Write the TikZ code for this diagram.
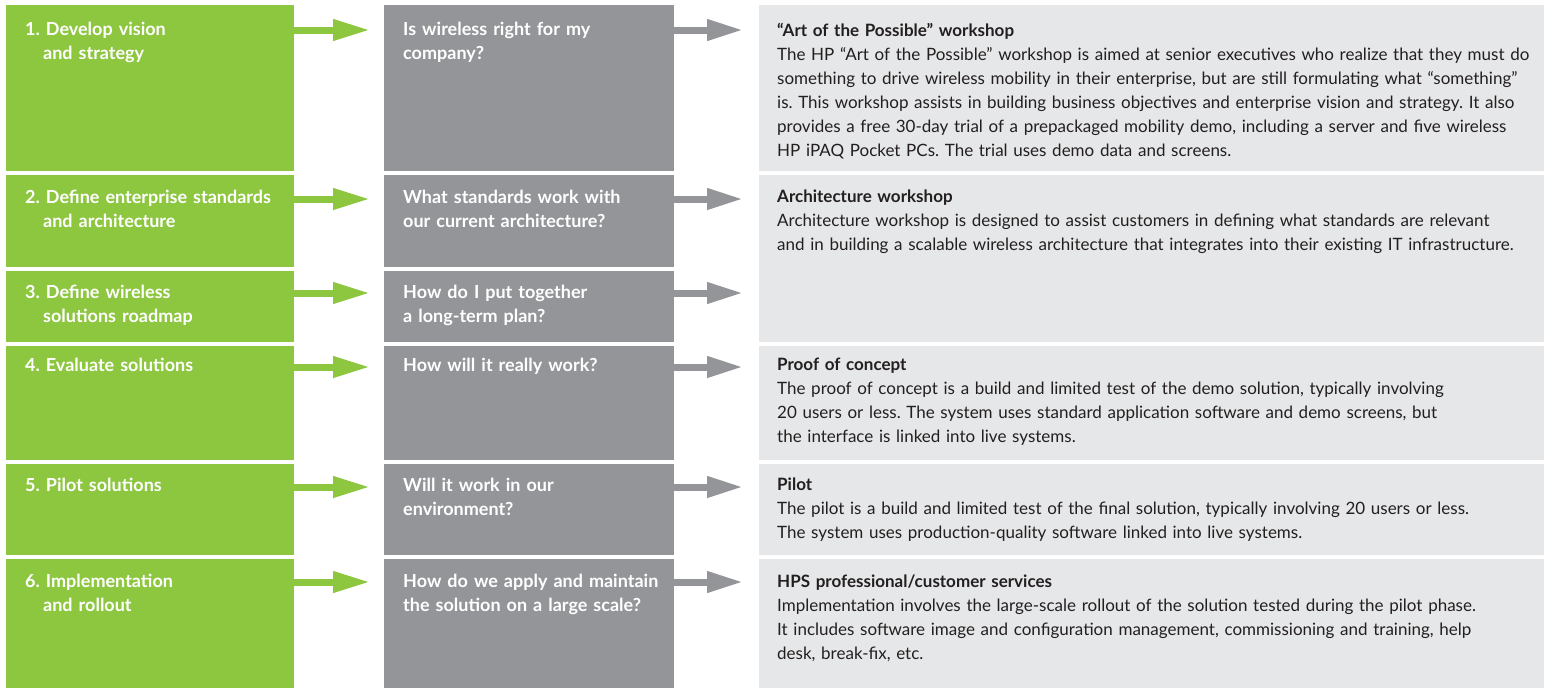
\documentclass[tikz,border=0pt]{standalone}
\usepackage{fontspec}
\setmainfont{Lato}
\frenchspacing
\usetikzlibrary{arrows.meta}
\definecolor{hpgreen}{HTML}{8DC63F}
\definecolor{hpgray}{HTML}{939598}
\definecolor{hplight}{HTML}{E6E7E8}
\definecolor{hptext}{HTML}{231F20}
\begin{document}
\begin{tikzpicture}[x=1pt,y=-1pt,
	stagebox/.style={fill=hpgreen,minimum width=288pt,anchor=north west,inner sep=0pt},
	askbox/.style={fill=hpgray,minimum width=290pt,anchor=north west,inner sep=0pt},
	offerbox/.style={fill=hplight,minimum width=785pt,anchor=north west,inner sep=0pt},
	boldtext/.style={anchor=base west,inner sep=0pt,align=left,text width=280pt,text=white,
		font=\fontsize{18}{24}\selectfont\bfseries},
	offertext/.style={anchor=base west,inner sep=0pt,align=left,text width=767pt,text=hptext,
		font=\fontsize{17}{24}\selectfont},
	greenarrow/.style={hpgreen,line width=7pt,-{Triangle[width=20pt,length=37pt]}},
	grayarrow/.style={hpgray,line width=7pt,-{Triangle[width=20pt,length=36pt]}}]

	\useasboundingbox (0,0) rectangle (1544,688);

	\node[stagebox, minimum height=166pt] (s1) at (6,5) {};
	\node[stagebox, minimum height=92pt] (s2) at (6,175) {};
	\node[stagebox, minimum height=71pt] (s3) at (6,271) {};
	\node[stagebox, minimum height=114pt] (s4) at (6,346) {};
	\node[stagebox, minimum height=91pt] (s5) at (6,464) {};
	\node[stagebox, minimum height=129pt] (s6) at (6,559) {};

	\node[askbox, minimum height=166pt] (q1) at (384,5) {};
	\node[askbox, minimum height=92pt] (q2) at (384,175) {};
	\node[askbox, minimum height=71pt] (q3) at (384,271) {};
	\node[askbox, minimum height=114pt] (q4) at (384,346) {};
	\node[askbox, minimum height=91pt] (q5) at (384,464) {};
	\node[askbox, minimum height=129pt] (q6) at (384,559) {};

	\node[offerbox, minimum height=166pt] (d1) at (759,5) {};
	\node[offerbox, minimum height=167pt] (d2) at (759,175) {};
	\node[offerbox, minimum height=114pt] (d4) at (759,346) {};
	\node[offerbox, minimum height=91pt] (d5) at (759,464) {};
	\node[offerbox, minimum height=129pt] (d6) at (759,559) {};

	\node[boldtext] (s1t) at (25,35) {1.\ Develop vision\\\hspace*{18pt}and strategy};
	\node[boldtext] (s2t) at (25,203) {2.\ Define enterprise standards\\\hspace*{18pt}and architecture};
	\node[boldtext] (s3t) at (25,298) {3.\ Define wireless\\\hspace*{18pt}solutions roadmap};
	\node[boldtext] (s4t) at (25,371) {4.\ Evaluate solutions};
	\node[boldtext] (s5t) at (25,491) {5.\ Pilot solutions};
	\node[boldtext] (s6t) at (25,587) {6.\ Implementation\\\hspace*{18pt}and rollout};

	\node[boldtext] (q1t) at (403,35) {Is wireless right for my\\company?};
	\node[boldtext] (q2t) at (403,203) {What standards work with\\our current architecture?};
	\node[boldtext] (q3t) at (403,298) {How do I put together\\a long-term plan?};
	\node[boldtext] (q4t) at (403,371) {How will it really work?};
	\node[boldtext] (q5t) at (403,491) {Will it work in our\\environment?};
	\node[boldtext] (q6t) at (403,587) {How do we apply and maintain\\the solution on a large scale?};

	\node[offertext] (d1t) at (777,36) {\textbf{“Art of the Possible” workshop}\\
		The HP “Art of the Possible” workshop is aimed at senior executives who realize that they must do\\
		something to drive wireless mobility in their enterprise, but are still formulating what “something”\\
		is. This workshop assists in building business objectives and enterprise vision and strategy. It also\\
		provides a free 30-day trial of a prepackaged mobility demo, including a server and five wireless\\
		HP iPAQ Pocket PCs. The trial uses demo data and screens.};
	\node[offertext] (d2t) at (777,202) {\textbf{Architecture workshop}\\
		Architecture workshop is designed to assist customers in defining what standards are relevant\\
		and in building a scalable wireless architecture that integrates into their existing IT infrastructure.};
	\node[offertext] (d4t) at (777,370) {\textbf{Proof of concept}\\
		The proof of concept is a build and limited test of the demo solution, typically involving\\
		20 users or less. The system uses standard application software and demo screens, but\\
		the interface is linked into live systems.};
	\node[offertext] (d5t) at (777,490) {\textbf{Pilot}\\
		The pilot is a build and limited test of the final solution, typically involving 20 users or less.\\
		The system uses production-quality software linked into live systems.};
	\node[offertext] (d6t) at (777,587) {\textbf{HPS professional/customer services}\\
		Implementation involves the large-scale rollout of the solution tested during the pilot phase.\\
		It includes software image and configuration management, commissioning and training, help\\
		desk, break-fix, etc.};

	\coordinate (a1) at ([yshift=-25pt]q1.north east);
	\coordinate (a2) at ([yshift=-24pt]q2.north east);
	\coordinate (a3) at ([yshift=-22pt]q3.north east);
	\coordinate (a4) at ([yshift=-21pt]q4.north east);
	\coordinate (a5) at ([yshift=-23pt]q5.north east);
	\coordinate (a6) at ([yshift=-23pt]q6.north east);

	\draw[greenarrow] ([yshift=-25pt]s1.north east) -- ([yshift=-25pt,xshift=-14pt]q1.north west);
	\draw[greenarrow] ([yshift=-24pt]s2.north east) -- ([yshift=-24pt,xshift=-14pt]q2.north west);
	\draw[greenarrow] ([yshift=-22pt]s3.north east) -- ([yshift=-22pt,xshift=-14pt]q3.north west);
	\draw[greenarrow] ([yshift=-21pt]s4.north east) -- ([yshift=-21pt,xshift=-14pt]q4.north west);
	\draw[greenarrow] ([yshift=-23pt]s5.north east) -- ([yshift=-23pt,xshift=-14pt]q5.north west);
	\draw[greenarrow] ([yshift=-23pt]s6.north east) -- ([yshift=-23pt,xshift=-14pt]q6.north west);

	\draw[grayarrow] (a1) -- ([xshift=-16pt]d1.west |- a1);
	\draw[grayarrow] (a2) -- ([xshift=-16pt]d2.west |- a2);
	\draw[grayarrow] (a3) -- ([xshift=-16pt]d2.west |- a3);
	\draw[grayarrow] (a4) -- ([xshift=-16pt]d4.west |- a4);
	\draw[grayarrow] (a5) -- ([xshift=-16pt]d5.west |- a5);
	\draw[grayarrow] (a6) -- ([xshift=-16pt]d6.west |- a6);

\end{tikzpicture}
\end{document}
